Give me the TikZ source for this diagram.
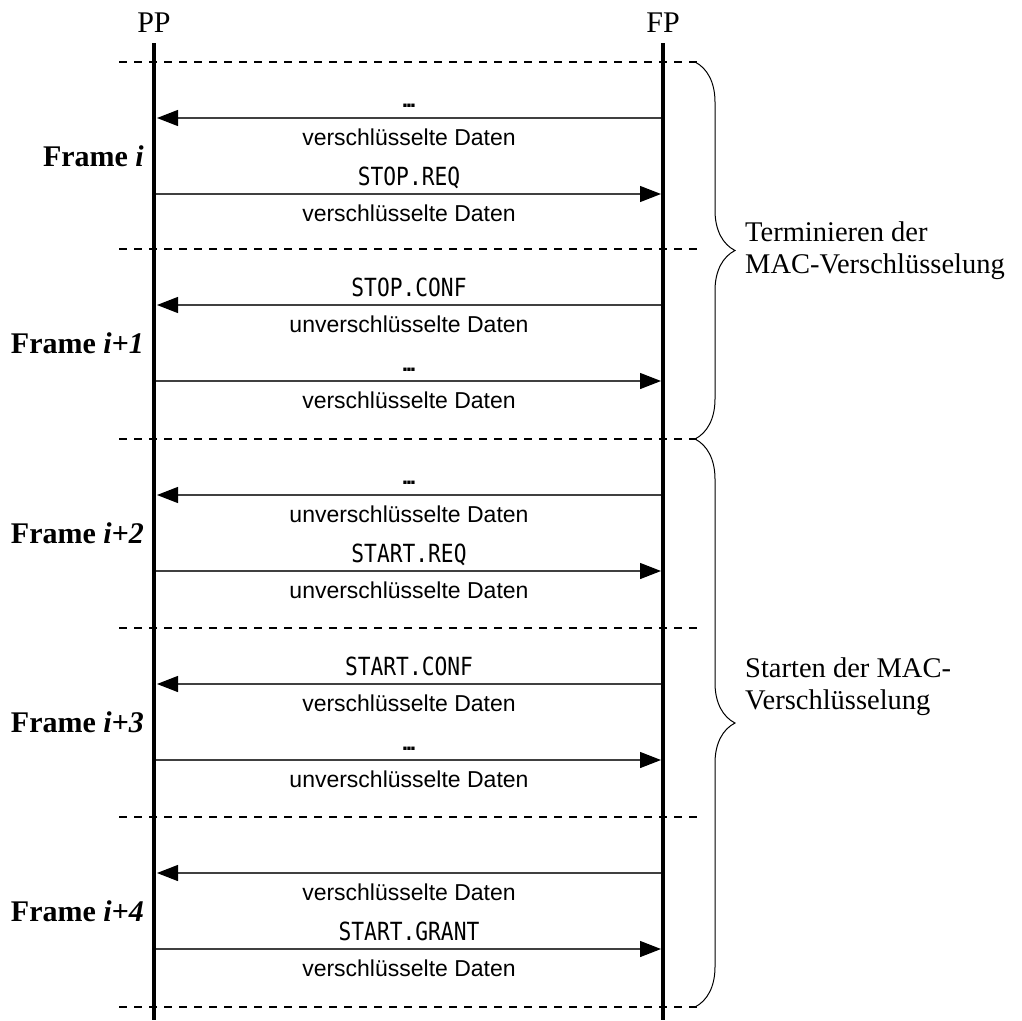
\documentclass[tikz,border=0pt]{standalone}
\usepackage{fontspec}
\setmainfont{Liberation Serif}
\setsansfont{Liberation Sans}
\setmonofont[FakeStretch=0.85]{DejaVu Sans Mono}
\usetikzlibrary{arrows.meta,decorations.pathreplacing}
% tight, heavy three-dot ellipsis
\newcommand{\hdots}{\textbf{.\kern-2.4pt.\kern-2.4pt.}}

\begin{document}
\begin{tikzpicture}[x=1pt,y=-1pt,
  lifeline/.style={line width=4pt},
  framesep/.style={line width=1.2pt, dash pattern=on 8pt off 7pt, dash phase=-3pt},
  msg/.style={line width=1.3pt, draw=black!75, -{Triangle[length=21pt,width=16pt,black]}},
  data/.style={font=\sffamily\fontsize{23}{23}\selectfont, anchor=base, inner sep=0pt},
  cmd/.style={font=\ttfamily\fontsize{25}{25}\selectfont, anchor=base, inner sep=0pt},
  framelbl/.style={font=\bfseries\fontsize{30}{30}\selectfont, anchor=base east, inner sep=0pt},
  party/.style={font=\fontsize{30}{30}\selectfont, anchor=base, inner sep=0pt},
  phase/.style={font=\fontsize{28.5}{32}\selectfont, anchor=west, align=left, inner sep=0pt},
  grouping/.style={decorate, decoration={brace, amplitude=40pt}, line width=1pt}]
\useasboundingbox (0,0) rectangle (1022,1020);

% parties and their lifelines
\node[party] (pp) at (154,32) {PP};
\node[party] (fp) at (663,32) {FP};
\coordinate (pptop) at (154,43);
\coordinate (ppbot) at (154,1020);
\coordinate (fptop) at (663,43);
\coordinate (fpbot) at (663,1020);
\draw[lifeline] (pptop) -- (ppbot);
\draw[lifeline] (fptop) -- (fpbot);

% frame separators
\foreach \y [count=\i] in {62,249,439,628,817,1007} {
  \coordinate (sepw\i) at (116,\y);
  \coordinate (sepe\i) at (697,\y);
  \draw[framesep] (sepw\i) -- (sepe\i);
}

% messages: FP -> PP and PP -> FP in every frame
\foreach \k/\y in {0/62,1/249,2/439,3/628,4/817} {
  \coordinate (fpl\k) at (661,\y+56);
  \coordinate (ppl\k) at (157,\y+56);
  \coordinate (ppr\k) at (156,\y+132);
  \coordinate (fpr\k) at (661,\y+132);
  \draw[msg] (fpl\k) -- (ppl\k);
  \draw[msg] (ppr\k) -- (fpr\k);
}

% frame i
\node[framelbl] (lbl0) at (144,166) {Frame \textit{i}};
\node[data] (t0a) at (409,107) {\hdots};
\node[data] (t0b) at (409,145) {verschlüsselte Daten};
\node[cmd]  (t0c) at (409,185) {STOP.REQ};
\node[data] (t0d) at (409,221) {verschlüsselte Daten};

% frame i+1
\node[framelbl] (lbl1) at (144,353) {Frame \textit{i+1}};
\node[cmd]  (t1a) at (409,296) {STOP.CONF};
\node[data] (t1b) at (409,332) {unverschlüsselte Daten};
\node[data] (t1c) at (409,371) {\hdots};
\node[data] (t1d) at (409,408) {verschlüsselte Daten};

% frame i+2
\node[framelbl] (lbl2) at (144,543) {Frame \textit{i+2}};
\node[data] (t2a) at (409,484) {\hdots};
\node[data] (t2b) at (409,522) {unverschlüsselte Daten};
\node[cmd]  (t2c) at (409,562) {START.REQ};
\node[data] (t2d) at (409,598) {unverschlüsselte Daten};

% frame i+3
\node[framelbl] (lbl3) at (144,732) {Frame \textit{i+3}};
\node[cmd]  (t3a) at (409,675) {START.CONF};
\node[data] (t3b) at (409,711) {verschlüsselte Daten};
\node[data] (t3c) at (409,750) {\hdots};
\node[data] (t3d) at (409,787) {unverschlüsselte Daten};

% frame i+4
\node[framelbl] (lbl4) at (144,921) {Frame \textit{i+4}};
\node[data] (t4b) at (409,900) {verschlüsselte Daten};
\node[cmd]  (t4c) at (409,940) {START.GRANT};
\node[data] (t4d) at (409,976) {verschlüsselte Daten};

% phases
\coordinate (stoptop) at (695,62);
\coordinate (stopbot) at (695,439);
\coordinate (starttop) at (695,439);
\coordinate (startbot) at (695,1007);
\draw[grouping] (stoptop) -- (stopbot);
\draw[grouping] (starttop) -- (startbot);
\node[phase] (stopphase) at (745,251) {Terminieren der\\MAC-Verschlüsselung};
\node[phase] (startphase) at (745,687) {Starten der MAC-\\Verschlüsselung};
\end{tikzpicture}
\end{document}
